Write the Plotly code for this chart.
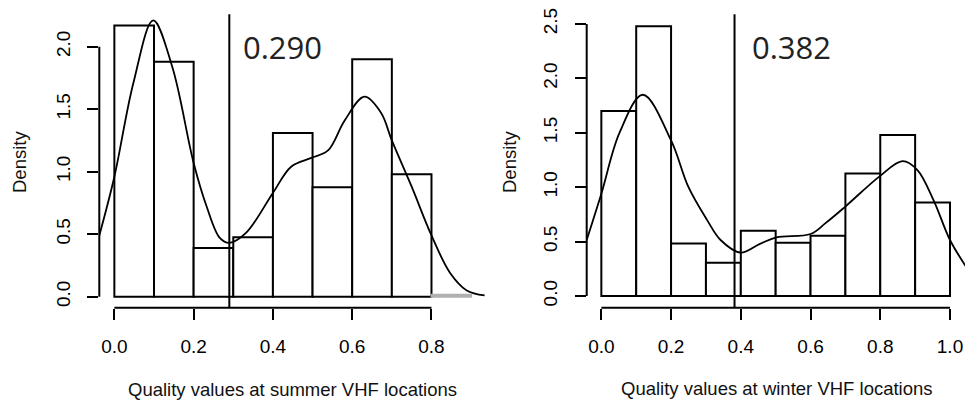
import numpy as np
import plotly.graph_objects as go
from plotly.subplots import make_subplots

# histogram bins (edges) and densities
summer_edges = [0.0, 0.1, 0.2, 0.3, 0.4, 0.5, 0.6, 0.7, 0.8, 0.9]
summer_density = [2.17, 1.88, 0.39, 0.475, 1.31, 0.875, 1.90, 0.98, 0.015]

winter_edges = [0.0, 0.1, 0.2, 0.3, 0.4, 0.5, 0.6, 0.7, 0.8, 0.9, 1.0]
winter_density = [1.70, 2.48, 0.484, 0.306, 0.60, 0.49, 0.554, 1.127, 1.48, 0.86]

# kernel density curves
summer_kde_x = [-0.038, 0.0, 0.048, 0.098, 0.146, 0.2, 0.233, 0.266, 0.29, 0.332,
                0.4, 0.446, 0.497, 0.539, 0.581, 0.631, 0.673, 0.70, 0.75, 0.80,
                0.847, 0.889, 0.934]
summer_kde_y = [0.49, 0.96, 1.71, 2.21, 1.84, 1.07, 0.72, 0.47, 0.43, 0.51,
                0.83, 1.04, 1.11, 1.17, 1.41, 1.60, 1.47, 1.25, 0.88, 0.49,
                0.19, 0.05, 0.01]

winter_kde_x = [-0.042, 0.0, 0.052, 0.119, 0.2, 0.25, 0.303, 0.342, 0.399, 0.455,
                0.502, 0.6, 0.643, 0.699, 0.798, 0.864, 0.906, 0.953, 1.0, 1.046]
winter_kde_y = [0.515, 0.94, 1.50, 1.85, 1.43, 1.00, 0.70, 0.515, 0.40, 0.48,
                0.54, 0.57, 0.67, 0.82, 1.10, 1.24, 1.16, 0.88, 0.515, 0.27]

# thresholds
summer_cut = 0.290
winter_cut = 0.382

summer_xticks = [0.0, 0.2, 0.4, 0.6, 0.8]
summer_yticks = [0.0, 0.5, 1.0, 1.5, 2.0]
winter_xticks = [0.0, 0.2, 0.4, 0.6, 0.8, 1.0]
winter_yticks = [0.0, 0.5, 1.0, 1.5, 2.0, 2.5]

# the page body has an 8px margin, so the figure sits at (8, 8) in the window
# and only ~957px of its width is visible
OFF = 8
W, H = 973 - 2 * OFF, 405 - OFF
INK = "#000000"
FONT = "Liberation Sans, Arial, sans-serif"


def px(x):
    return (x - OFF) / W


def py(y):
    return 1 - (y - OFF) / H


fig = make_subplots(rows=1, cols=2)

panels = [
    (1, summer_edges, summer_density, summer_kde_x, summer_kde_y, summer_cut,
     summer_xticks, summer_yticks),
    (2, winter_edges, winter_density, winter_kde_x, winter_kde_y, winter_cut,
     winter_xticks, winter_yticks),
]

for col, edges, dens, kx, ky, cut, xt, yt in panels:
    edges = np.asarray(edges)
    centers = (edges[:-1] + edges[1:]) / 2
    widths = np.diff(edges)
    # near-empty bins only show up as a faint grey sliver in the original
    outline = ["#b0b0b0" if d < 0.05 else "black" for d in dens]
    fig.add_trace(go.Bar(x=centers, y=dens, width=widths,
                         marker=dict(color="white", line=dict(color=outline, width=2)),
                         showlegend=False), row=1, col=col)
    fig.add_trace(go.Scatter(x=kx, y=ky, mode="lines",
                             line=dict(color="black", width=1.8, shape="spline", smoothing=1.0),
                             showlegend=False), row=1, col=col)

    xr = "x" if col == 1 else "x2"
    yr = "y" if col == 1 else "y2"
    # threshold line over the whole plot region
    fig.add_shape(type="line", xref=xr, yref=f"{yr} domain", x0=cut, x1=cut, y0=0, y1=1,
                  line=dict(color="black", width=2))
    # R-style axis lines that only span the tick range
    fig.add_shape(type="line", xref=f"{xr} domain", yref=yr, x0=0, x1=0, y0=yt[0], y1=yt[-1],
                  line=dict(color="black", width=2))
    fig.add_shape(type="line", xref=xr, yref=f"{yr} domain", x0=xt[0], x1=xt[-1], y0=0, y1=0,
                  line=dict(color="black", width=2))

axis_common = dict(showgrid=False, zeroline=False, showline=False, ticks="outside",
                   ticklen=11, tickwidth=2, tickcolor="black", tickformat=".1f",
                   tickfont=dict(family=FONT, size=19, color=INK), automargin=False,
                   ticklabelstandoff=10, ticklabeloverflow="allow")

fig.update_xaxes(**axis_common)
fig.update_yaxes(**axis_common, tickangle=-90)

# right panel squeezed a little so the last tick label stays on screen
x2_left, x2_one, x2_edge = 586.7, 950.0, 965.0
x2_scale = (x2_one - x2_left) / 1.042
x2_range = [-0.042, -0.042 + (x2_edge - x2_left) / x2_scale]

ydom = [py(307.8), py(14.2)]
fig.update_layout(
    width=W, height=H,
    margin=dict(l=0, r=0, t=0, b=0),
    plot_bgcolor="white", paper_bgcolor="white",
    xaxis=dict(domain=[px(99.3), px(506)], range=[-0.038, 0.988], tickvals=summer_xticks),
    xaxis2=dict(domain=[px(x2_left), 1.0], range=x2_range, tickvals=winter_xticks),
    yaxis=dict(domain=ydom, range=[-0.089, 2.26], tickvals=summer_yticks),
    yaxis2=dict(domain=ydom, range=[-0.108, 2.59], tickvals=winter_yticks),
)

label_font = dict(family=FONT, size=18.5, color="#111111")


def label(text, x, y, angle=0):
    fig.add_annotation(text=text, x=px(x), y=py(y), xref="paper", yref="paper",
                       xanchor="center", yanchor="middle", textangle=angle,
                       showarrow=False, font=label_font)


label("Density", 20, 162, -90)
label("Density", 510, 162, -90)
label("Quality values at summer VHF locations", 292.5, 389)
label("Quality values at winter VHF locations", 777, 388)

cut_font = dict(family="Open Sans, sans-serif", size=31, color="#222222")
fig.add_annotation(text=f"{summer_cut:.3f}", x=0.425, y=2.0, xref="x", yref="y",
                   xanchor="center", yanchor="middle", showarrow=False, font=cut_font)
fig.add_annotation(text=f"{winter_cut:.3f}", x=0.545, y=2.29, xref="x2", yref="y2",
                   xanchor="center", yanchor="middle", showarrow=False, font=cut_font)

fig.write_html("out.html")
